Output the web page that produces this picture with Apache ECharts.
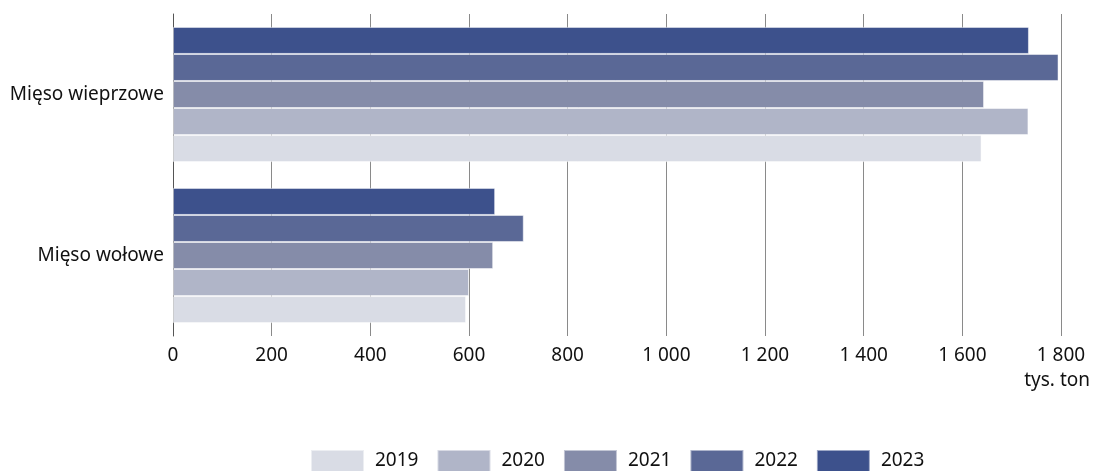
<!DOCTYPE html>
<html>
<head>
<meta charset="utf-8">
<script src="https://cdn.jsdelivr.net/npm/echarts@6/dist/echarts.min.js"></script>
<style>html,body{margin:0;padding:0;background:#fff}#c{width:1093px;height:471px}</style>
</head>
<body>
<div id="c"></div>
<script>
var categories = ['Mięso wołowe', 'Mięso wieprzowe'];
var years = ['2019', '2020', '2021', '2022', '2023'];
var v2019 = [594, 1639];
var v2020 = [600, 1734];
var v2021 = [649, 1644];
var v2022 = [711, 1795];
var v2023 = [653, 1735];
var colors = ['#d9dce5', '#b0b5c8', '#858ca9', '#5a6896', '#3d518c'];
var values = [v2019, v2020, v2021, v2022, v2023];

var font = 'Noto Sans';
var chart = echarts.init(document.getElementById('c'));
var series = [];
for (var i = years.length - 1; i >= 0; i--) {
  series.push({
    name: years[i], type: 'bar', data: values[i],
    barGap: '0%', barCategoryGap: '16%',
    itemStyle: { color: colors[i], borderColor: 'rgba(255,255,255,0.5)', borderWidth: 1 }
  });
}
chart.setOption({
  animation: false,
  textStyle: { fontFamily: font },
  grid: { left: 173, right: 32, top: 14, bottom: 135 },
  xAxis: {
    type: 'value', min: 0, max: 1800, interval: 200,
    axisLine: { show: false }, axisTick: { show: false },
    splitLine: { lineStyle: { color: '#8a8a8a', width: 1 } },
    axisLabel: {
      color: '#111', fontSize: 19, fontFamily: font, margin: 10,
      formatter: function (v) { return String(v).replace(/\B(?=(\d{3})+(?!\d))/g, ' '); }
    }
  },
  yAxis: {
    type: 'category', data: categories,
    axisLine: { lineStyle: { color: '#555', width: 1 } },
    axisTick: { show: false },
    axisLabel: { color: '#111', fontSize: 19, fontFamily: font, margin: 9 }
  },
  legend: {
    data: years, top: 444, left: 305, icon: 'rect',
    itemWidth: 53, itemHeight: 22, itemGap: 18,
    textStyle: { fontSize: 19, color: '#111', fontFamily: font, padding: [0, 0, 0, 6] }
  },
  graphic: [{
    type: 'text', right: 3, top: 371,
    style: { text: 'tys. ton', fontSize: 19, fill: '#111', fontFamily: font }
  }],
  series: series
});
</script>
</body>
</html>
